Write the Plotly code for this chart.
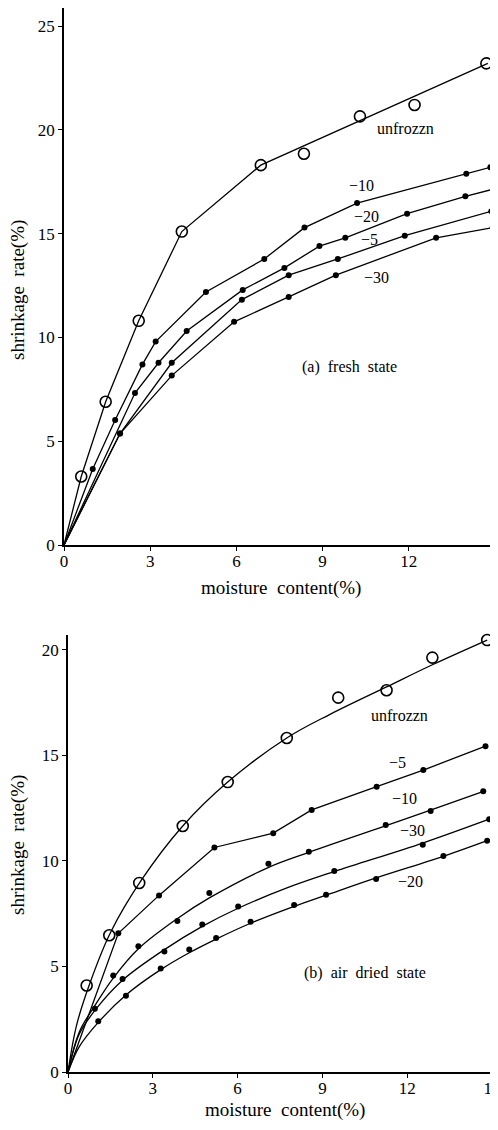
import plotly.graph_objects as go

# ---------------- (a) fresh state ----------------
a_unf_x = [0.6, 1.45, 2.6, 4.1, 6.85, 8.35, 10.3, 12.2, 14.7]
a_unf_y = [3.3, 6.9, 10.8, 15.1, 18.3, 18.85, 20.65, 21.2, 23.2]
a_unf_fit_x = [0, 0.6, 1.45, 2.6, 4.1, 6.85, 14.75]
a_unf_fit_y = [0, 3.3, 6.9, 10.8, 15.1, 18.3, 23.2]

a_m10_x = [1.0, 1.78, 2.73, 3.19, 4.94, 6.97, 8.37, 10.2, 14.0, 14.84]
a_m10_y = [3.66, 6.02, 8.7, 9.8, 12.19, 13.78, 15.29, 16.47, 17.88, 18.2]
a_m20_x = [2.47, 3.29, 4.27, 6.22, 7.67, 8.89, 9.79, 11.94, 13.97, 14.96]
a_m20_y = [7.32, 8.78, 10.31, 12.29, 13.35, 14.4, 14.8, 15.96, 16.8, 17.15]
a_m5_x = [1.95, 3.75, 6.19, 7.82, 9.53, 11.86, 14.87]
a_m5_y = [5.37, 8.78, 11.82, 13.0, 13.78, 14.9, 16.08]
a_m30_x = [1.95, 3.75, 5.92, 7.82, 9.46, 12.95, 14.92]
a_m30_y = [5.37, 8.16, 10.75, 11.95, 13.0, 14.8, 15.29]

# ---------------- (b) air dried state ----------------
b_unf_x = [0.66, 1.46, 2.52, 4.06, 5.65, 7.74, 9.56, 11.27, 12.89, 14.83]
b_unf_y = [4.1, 6.48, 8.96, 11.66, 13.74, 15.83, 17.74, 18.09, 19.64, 20.47]
b_unf_fit_x = [0, 0.3, 0.8, 1.5, 2.6, 4.06, 5.65, 7.74, 9.27, 11.27, 12.89, 14.83]
b_unf_fit_y = [0, 2.2, 4.3, 6.6, 9.1, 11.66, 13.74, 15.83, 16.95, 18.25, 19.3, 20.47]

b_m5_x = [1.78, 3.22, 5.18, 7.26, 8.62, 10.92, 12.57, 14.77]
b_m5_y = [6.57, 8.37, 10.64, 11.32, 12.42, 13.52, 14.31, 15.44]

b_m10_x = [0.95, 1.6, 2.49, 3.87, 5.0, 7.09, 8.52, 11.24, 12.83, 14.69]
b_m10_y = [3.0, 4.57, 5.96, 7.16, 8.48, 9.87, 10.44, 11.71, 12.37, 13.31]
b_m10_fit_x = [0, 0.4, 1.0, 1.6, 2.5, 3.9, 5.0, 7.1, 8.5, 11.2, 12.8, 14.7]
b_m10_fit_y = [0, 1.9, 3.25, 4.45, 5.85, 7.3, 8.25, 9.7, 10.4, 11.65, 12.4, 13.3]

b_m30_x = [1.93, 3.41, 4.75, 6.02, 9.42, 12.55, 14.9]
b_m30_y = [4.41, 5.71, 6.99, 7.84, 9.52, 10.77, 11.98]
b_m30_fit_x = [0, 0.4, 1.0, 1.93, 3.41, 4.75, 6.0, 7.7, 9.42, 12.55, 14.9]
b_m30_fit_y = [0, 1.8, 3.0, 4.35, 5.8, 6.9, 7.75, 8.7, 9.5, 10.85, 11.98]

b_m20_x = [1.07, 2.05, 3.28, 4.29, 5.24, 6.46, 8.0, 9.13, 10.9, 13.28, 14.83]
b_m20_y = [2.4, 3.61, 4.91, 5.8, 6.35, 7.12, 7.92, 8.4, 9.15, 10.24, 10.96]
b_m20_fit_x = [0, 0.4, 1.07, 2.05, 3.28, 4.29, 5.24, 6.46, 8.0, 9.13, 10.9, 13.28, 14.83]
b_m20_fit_y = [0, 1.2, 2.35, 3.65, 4.85, 5.65, 6.3, 7.05, 7.85, 8.38, 9.2, 10.22, 10.96]

x_ticks = [0, 3, 6, 9, 12, 15]
x_ticktext_a = ["0", "3", "6", "9", "12", ""]
x_ticktext_b = ["0", "3", "6", "9", "12", "15"]
y_ticks_a = [0, 5, 10, 15, 20, 25]
y_ticks_b = [0, 5, 10, 15, 20]

FONT = "Liberation Serif"
LW = 1.3

fig = go.Figure()


def line(x, y, ax, shape="linear"):
    fig.add_trace(go.Scatter(x=x, y=y, mode="lines", xaxis=ax[0], yaxis=ax[1],
                             line=dict(color="black", width=LW, shape=shape),
                             showlegend=False, hoverinfo="skip"))


def dots(x, y, ax, open_=False):
    if open_:
        m = dict(symbol="circle-open", size=11, color="black", line=dict(width=1.6, color="black"))
    else:
        m = dict(symbol="circle", size=6, color="black")
    fig.add_trace(go.Scatter(x=x, y=y, mode="markers", xaxis=ax[0], yaxis=ax[1],
                             marker=m, cliponaxis=False, showlegend=False, hoverinfo="skip"))


A = ("x", "y")
B = ("x2", "y2")

# panel (a)
line(a_unf_fit_x, a_unf_fit_y, A)
dots(a_unf_x, a_unf_y, A, open_=True)
for xs, ys in [(a_m10_x, a_m10_y), (a_m20_x, a_m20_y), (a_m5_x, a_m5_y), (a_m30_x, a_m30_y)]:
    line([0] + xs, [0] + ys, A)
    dots(xs, ys, A)

# panel (b)
line(b_unf_fit_x, b_unf_fit_y, B, shape="spline")
dots(b_unf_x, b_unf_y, B, open_=True)
line([0] + b_m5_x, [0] + b_m5_y, B)
dots(b_m5_x, b_m5_y, B)
for fx, fy, xs, ys in [(b_m10_fit_x, b_m10_fit_y, b_m10_x, b_m10_y),
                       (b_m30_fit_x, b_m30_fit_y, b_m30_x, b_m30_y),
                       (b_m20_fit_x, b_m20_fit_y, b_m20_x, b_m20_y)]:
    line(fx, fy, B, shape="spline")
    dots(xs, ys, B)

# page body has an 8px margin: figure is sized/placed to compensate
OFF = 8
W, H = 498 - OFF, 1130 - OFF


def px(v):
    return (v - OFF) / W


def py(v):
    return 1 - (v - OFF) / H


axis_common = dict(showline=True, linecolor="black", linewidth=1.6, showgrid=False,
                   zeroline=False, ticks="outside", ticklen=4, tickwidth=1.3,
                   tickcolor="black", tickfont=dict(family=FONT, size=17, color="black"),
                   automargin=False)

fig.update_layout(
    width=W, height=H,
    margin=dict(l=0, r=0, t=0, b=0),
    paper_bgcolor="white", plot_bgcolor="white",
    xaxis=dict(domain=[px(64), px(495)], range=[0, 15], anchor="y",
               tickvals=x_ticks, ticktext=x_ticktext_a, ticklabelstandoff=-4, **axis_common),
    yaxis=dict(domain=[py(545), 1.0], range=[0, 25.87], anchor="x",
               tickvals=y_ticks_a, **axis_common),
    xaxis2=dict(domain=[px(68), px(492)], range=[0, 15], anchor="y2",
                tickvals=x_ticks, ticktext=x_ticktext_b, ticklabelstandoff=-4,
                ticklabeloverflow="allow", **axis_common),
    yaxis2=dict(domain=[py(1072), py(635)], range=[0, 20.71], anchor="x2",
                tickvals=y_ticks_b, **axis_common),
)

title_font = dict(family=FONT, size=19, color="black")
lab_font = dict(family=FONT, size=16, color="black")
C = dict(xanchor="center", yanchor="middle", showarrow=False)
annotations = [
    # axis titles
    dict(text="shrinkage  rate(%)", x=px(18), y=py(290), xref="paper", yref="paper",
         textangle=-90, font=title_font, **C),
    dict(text="moisture  content(%)", x=px(281), y=py(588), xref="paper", yref="paper",
         font=title_font, **C),
    dict(text="shrinkage  rate(%)", x=px(18), y=py(845), xref="paper", yref="paper",
         textangle=-90, font=title_font, **C),
    dict(text="moisture  content(%)", x=px(285), y=py(1110), xref="paper", yref="paper",
         font=title_font, **C),
    # panel (a) labels
    dict(text="unfrozzn", x=11.9, y=20.05, xref="x", yref="y", font=lab_font, **C),
    dict(text="−10", x=10.35, y=17.3, xref="x", yref="y", font=lab_font, **C),
    dict(text="−20", x=10.52, y=15.83, xref="x", yref="y", font=lab_font, **C),
    dict(text="−5", x=10.63, y=14.73, xref="x", yref="y", font=lab_font, **C),
    dict(text="−30", x=10.87, y=12.9, xref="x", yref="y", font=lab_font, **C),
    dict(text="(a)  fresh  state", x=9.93, y=8.57, xref="x", yref="y", font=lab_font, **C),
    # panel (b) labels
    dict(text="unfrozzn", x=11.74, y=16.9, xref="x2", yref="y2", font=lab_font, **C),
    dict(text="−5", x=11.67, y=14.65, xref="x2", yref="y2", font=lab_font, **C),
    dict(text="−10", x=11.92, y=12.95, xref="x2", yref="y2", font=lab_font, **C),
    dict(text="−30", x=12.17, y=11.45, xref="x2", yref="y2", font=lab_font, **C),
    dict(text="−20", x=12.13, y=9.04, xref="x2", yref="y2", font=lab_font, **C),
    dict(text="(b)  air  dried  state", x=10.5, y=4.7, xref="x2", yref="y2", font=lab_font, **C),
]
fig.update_layout(annotations=annotations)

fig.write_html("out.html")
